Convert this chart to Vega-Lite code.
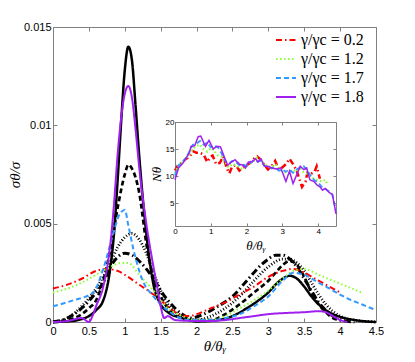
{
"$schema":"https://vega.github.io/schema/vega-lite/v6.json",
"width":323,"height":295,
"autosize":"none",
"padding":{"left":53,"top":27,"right":39,"bottom":40},
"background":"white",
"config":{"view":{"stroke":null},"axis":{"grid":false,"labelFlush":false,"labelOverlap":false,"domainColor":"#808080","tickColor":"#808080","labelColor":"#000000","labelFont":"Liberation Sans","titleColor":"#000000","titleFontWeight":"normal"}},
"datasets":{
"blk":[
{"s":"solid","x":0,"y":0},{"s":"solid","x":0.2,"y":0.00003},{"s":"solid","x":0.35,"y":0.0001},{"s":"solid","x":0.5,"y":0.0003},{"s":"solid","x":0.6,"y":0.0006},{"s":"solid","x":0.7,"y":0.0011},{"s":"solid","x":0.8,"y":0.0028},{"s":"solid","x":0.85,"y":0.0045},{"s":"solid","x":0.9,"y":0.0072},{"s":"solid","x":0.95,"y":0.0102},{"s":"solid","x":1.0,"y":0.0128},{"s":"solid","x":1.05,"y":0.014},{"s":"solid","x":1.1,"y":0.0133},{"s":"solid","x":1.15,"y":0.011},{"s":"solid","x":1.2,"y":0.0085},{"s":"solid","x":1.3,"y":0.0045},{"s":"solid","x":1.4,"y":0.0019},{"s":"solid","x":1.5,"y":0.0009},{"s":"solid","x":1.6,"y":0.0005},{"s":"solid","x":1.8,"y":0.0002},{"s":"solid","x":2.0,"y":0.00003},{"s":"solid","x":2.3,"y":0.0001},{"s":"solid","x":2.5,"y":0.0003},{"s":"solid","x":2.7,"y":0.0007},{"s":"solid","x":2.9,"y":0.0012},{"s":"solid","x":3.0,"y":0.0015},{"s":"solid","x":3.1,"y":0.0019},{"s":"solid","x":3.2,"y":0.0022},{"s":"solid","x":3.3,"y":0.00235},{"s":"solid","x":3.4,"y":0.0022},{"s":"solid","x":3.5,"y":0.0018},{"s":"solid","x":3.6,"y":0.0013},{"s":"solid","x":3.7,"y":0.0009},{"s":"solid","x":3.8,"y":0.0006},{"s":"solid","x":3.9,"y":0.0004},{"s":"solid","x":4.0,"y":0.00026},{"s":"solid","x":4.2,"y":0.0001},{"s":"solid","x":4.5,"y":0},
{"s":"dashed","x":0,"y":0},{"s":"dashed","x":0.2,"y":0.0001},{"s":"dashed","x":0.4,"y":0.0004},{"s":"dashed","x":0.5,"y":0.0007},{"s":"dashed","x":0.6,"y":0.0011},{"s":"dashed","x":0.7,"y":0.0021},{"s":"dashed","x":0.8,"y":0.0037},{"s":"dashed","x":0.9,"y":0.0058},{"s":"dashed","x":1.0,"y":0.0075},{"s":"dashed","x":1.05,"y":0.008},{"s":"dashed","x":1.1,"y":0.0078},{"s":"dashed","x":1.2,"y":0.0066},{"s":"dashed","x":1.3,"y":0.004},{"s":"dashed","x":1.4,"y":0.0022},{"s":"dashed","x":1.5,"y":0.0013},{"s":"dashed","x":1.6,"y":0.0007},{"s":"dashed","x":1.8,"y":0.0002},{"s":"dashed","x":2.0,"y":0.0001},{"s":"dashed","x":2.2,"y":0.0001},{"s":"dashed","x":2.4,"y":0.0004},{"s":"dashed","x":2.6,"y":0.0009},{"s":"dashed","x":2.8,"y":0.0015},{"s":"dashed","x":3.0,"y":0.0021},{"s":"dashed","x":3.1,"y":0.0025},{"s":"dashed","x":3.2,"y":0.0029},{"s":"dashed","x":3.3,"y":0.0031},{"s":"dashed","x":3.4,"y":0.0029},{"s":"dashed","x":3.5,"y":0.0023},{"s":"dashed","x":3.6,"y":0.0015},{"s":"dashed","x":3.7,"y":0.0009},{"s":"dashed","x":3.8,"y":0.0005},{"s":"dashed","x":3.9,"y":0.0002},{"s":"dashed","x":4.0,"y":0.0001},
{"s":"dotted","x":0,"y":0},{"s":"dotted","x":0.2,"y":0.0002},{"s":"dotted","x":0.4,"y":0.0008},{"s":"dotted","x":0.6,"y":0.0017},{"s":"dotted","x":0.8,"y":0.003},{"s":"dotted","x":0.9,"y":0.0038},{"s":"dotted","x":1.0,"y":0.0043},{"s":"dotted","x":1.1,"y":0.0045},{"s":"dotted","x":1.2,"y":0.0042},{"s":"dotted","x":1.3,"y":0.0035},{"s":"dotted","x":1.4,"y":0.0025},{"s":"dotted","x":1.5,"y":0.0016},{"s":"dotted","x":1.6,"y":0.0009},{"s":"dotted","x":1.8,"y":0.0003},{"s":"dotted","x":2.0,"y":0.0001},{"s":"dotted","x":2.2,"y":0.0003},{"s":"dotted","x":2.4,"y":0.0007},{"s":"dotted","x":2.6,"y":0.0013},{"s":"dotted","x":2.8,"y":0.0021},{"s":"dotted","x":3.0,"y":0.0028},{"s":"dotted","x":3.2,"y":0.0032},{"s":"dotted","x":3.3,"y":0.0032},{"s":"dotted","x":3.4,"y":0.003},{"s":"dotted","x":3.5,"y":0.0026},{"s":"dotted","x":3.6,"y":0.002},{"s":"dotted","x":3.7,"y":0.0014},{"s":"dotted","x":3.8,"y":0.0009},{"s":"dotted","x":4.0,"y":0.0003},{"s":"dotted","x":4.2,"y":0.0001},{"s":"dotted","x":4.5,"y":0},
{"s":"dashdot","x":0,"y":0},{"s":"dashdot","x":0.2,"y":0.0002},{"s":"dashdot","x":0.4,"y":0.0007},{"s":"dashdot","x":0.6,"y":0.0015},{"s":"dashdot","x":0.7,"y":0.002},{"s":"dashdot","x":0.8,"y":0.0028},{"s":"dashdot","x":0.9,"y":0.0033},{"s":"dashdot","x":1.0,"y":0.0035},{"s":"dashdot","x":1.1,"y":0.0034},{"s":"dashdot","x":1.2,"y":0.0031},{"s":"dashdot","x":1.3,"y":0.0027},{"s":"dashdot","x":1.4,"y":0.0022},{"s":"dashdot","x":1.5,"y":0.0016},{"s":"dashdot","x":1.6,"y":0.0011},{"s":"dashdot","x":1.7,"y":0.0007},{"s":"dashdot","x":1.8,"y":0.0004},{"s":"dashdot","x":1.9,"y":0.0002},{"s":"dashdot","x":2.1,"y":0.0004},{"s":"dashdot","x":2.3,"y":0.0008},{"s":"dashdot","x":2.5,"y":0.0013},{"s":"dashdot","x":2.7,"y":0.0021},{"s":"dashdot","x":2.9,"y":0.0029},{"s":"dashdot","x":3.0,"y":0.0032},{"s":"dashdot","x":3.1,"y":0.0034},{"s":"dashdot","x":3.2,"y":0.0034},{"s":"dashdot","x":3.3,"y":0.0032},{"s":"dashdot","x":3.4,"y":0.0028},{"s":"dashdot","x":3.5,"y":0.0022},{"s":"dashdot","x":3.6,"y":0.0016},{"s":"dashdot","x":3.7,"y":0.001},{"s":"dashdot","x":3.8,"y":0.0006},{"s":"dashdot","x":3.9,"y":0.0003},{"s":"dashdot","x":4.0,"y":0.0001},{"s":"dashdot","x":4.2,"y":0}
],
"col":[
{"g":"0.2","x":0,"y":0.0017},{"g":"0.2","x":0.2,"y":0.0019},{"g":"0.2","x":0.4,"y":0.0022},{"g":"0.2","x":0.6,"y":0.0026},{"g":"0.2","x":0.75,"y":0.0027},{"g":"0.2","x":0.9,"y":0.0026},{"g":"0.2","x":1.0,"y":0.0024},{"g":"0.2","x":1.2,"y":0.0019},{"g":"0.2","x":1.4,"y":0.0014},{"g":"0.2","x":1.6,"y":0.0008},{"g":"0.2","x":1.75,"y":0.0004},{"g":"0.2","x":1.9,"y":0.0003},{"g":"0.2","x":2.0,"y":0.0004},{"g":"0.2","x":2.2,"y":0.0007},{"g":"0.2","x":2.4,"y":0.001},{"g":"0.2","x":2.6,"y":0.0014},{"g":"0.2","x":2.8,"y":0.0018},{"g":"0.2","x":3.0,"y":0.0023},{"g":"0.2","x":3.2,"y":0.0026},{"g":"0.2","x":3.35,"y":0.0027},{"g":"0.2","x":3.5,"y":0.0025},{"g":"0.2","x":3.7,"y":0.0021},{"g":"0.2","x":3.9,"y":0.0017},{"g":"0.2","x":4.0,"y":0.0015},
{"g":"1.2","x":0,"y":0.0015},{"g":"1.2","x":0.2,"y":0.0017},{"g":"1.2","x":0.4,"y":0.002},{"g":"1.2","x":0.6,"y":0.0024},{"g":"1.2","x":0.8,"y":0.0028},{"g":"1.2","x":0.95,"y":0.003},{"g":"1.2","x":1.05,"y":0.003},{"g":"1.2","x":1.2,"y":0.0024},{"g":"1.2","x":1.4,"y":0.0016},{"g":"1.2","x":1.6,"y":0.0007},{"g":"1.2","x":1.8,"y":0.0003},{"g":"1.2","x":2.0,"y":0.0001},{"g":"1.2","x":2.2,"y":0.0001},{"g":"1.2","x":2.4,"y":0.0003},{"g":"1.2","x":2.6,"y":0.0007},{"g":"1.2","x":2.8,"y":0.0011},{"g":"1.2","x":3.0,"y":0.0016},{"g":"1.2","x":3.2,"y":0.0022},{"g":"1.2","x":3.35,"y":0.0026},{"g":"1.2","x":3.5,"y":0.0027},{"g":"1.2","x":3.7,"y":0.0024},{"g":"1.2","x":3.9,"y":0.0021},{"g":"1.2","x":4.1,"y":0.0018},{"g":"1.2","x":4.3,"y":0.0015},
{"g":"1.7","x":0,"y":0.0008},{"g":"1.7","x":0.28,"y":0.0011},{"g":"1.7","x":0.56,"y":0.0015},{"g":"1.7","x":0.7,"y":0.0027},{"g":"1.7","x":0.84,"y":0.0045},{"g":"1.7","x":0.93,"y":0.0055},{"g":"1.7","x":1.0,"y":0.0057},{"g":"1.7","x":1.05,"y":0.0049},{"g":"1.7","x":1.12,"y":0.0037},{"g":"1.7","x":1.25,"y":0.0021},{"g":"1.7","x":1.4,"y":0.0013},{"g":"1.7","x":1.63,"y":0.0005},{"g":"1.7","x":1.9,"y":0.0001},{"g":"1.7","x":2.2,"y":0.0001},{"g":"1.7","x":2.4,"y":0.0002},{"g":"1.7","x":2.6,"y":0.0004},{"g":"1.7","x":2.8,"y":0.0008},{"g":"1.7","x":3.0,"y":0.0013},{"g":"1.7","x":3.2,"y":0.0021},{"g":"1.7","x":3.35,"y":0.0025},{"g":"1.7","x":3.5,"y":0.0024},{"g":"1.7","x":3.7,"y":0.002},{"g":"1.7","x":3.9,"y":0.0016},{"g":"1.7","x":4.1,"y":0.0012},{"g":"1.7","x":4.3,"y":0.0009},{"g":"1.7","x":4.5,"y":0.0006},
{"g":"1.8","x":0,"y":0},{"g":"1.8","x":0.2,"y":0.00005},{"g":"1.8","x":0.4,"y":0.0002},{"g":"1.8","x":0.5,"y":0.0},{"g":"1.8","x":0.55,"y":0.0003},{"g":"1.8","x":0.6,"y":0.0008},{"g":"1.8","x":0.7,"y":0.0018},{"g":"1.8","x":0.8,"y":0.004},{"g":"1.8","x":0.85,"y":0.006},{"g":"1.8","x":0.9,"y":0.0085},{"g":"1.8","x":0.95,"y":0.0104},{"g":"1.8","x":1.0,"y":0.0116},{"g":"1.8","x":1.05,"y":0.012},{"g":"1.8","x":1.1,"y":0.0114},{"g":"1.8","x":1.15,"y":0.0098},{"g":"1.8","x":1.2,"y":0.0079},{"g":"1.8","x":1.3,"y":0.005},{"g":"1.8","x":1.4,"y":0.0028},{"g":"1.8","x":1.45,"y":0.0018},{"g":"1.8","x":1.5,"y":0.0008},{"g":"1.8","x":1.55,"y":0.0002},{"g":"1.8","x":1.6,"y":0.0003},{"g":"1.8","x":1.7,"y":0.0001},{"g":"1.8","x":2.0,"y":0.00005},{"g":"1.8","x":2.2,"y":0.00005},{"g":"1.8","x":2.4,"y":0.0001},{"g":"1.8","x":2.6,"y":0.0002},{"g":"1.8","x":2.8,"y":0.0003},{"g":"1.8","x":3.0,"y":0.0004},{"g":"1.8","x":3.2,"y":0.00045},{"g":"1.8","x":3.5,"y":0.0005},{"g":"1.8","x":3.7,"y":0.00055},{"g":"1.8","x":3.8,"y":0.0005},{"g":"1.8","x":3.9,"y":0.0003},{"g":"1.8","x":4.0,"y":0.0001},{"g":"1.8","x":4.1,"y":0}
],
"ins":[
{"g":"0.2","x":0,"n":11.0},{"g":"0.2","x":0.1,"n":12.2},{"g":"0.2","x":0.2,"n":12.4},{"g":"0.2","x":0.3,"n":13.2},{"g":"0.2","x":0.4,"n":13.5},{"g":"0.2","x":0.5,"n":14.6},{"g":"0.2","x":0.6,"n":14.3},{"g":"0.2","x":0.7,"n":14.3},{"g":"0.2","x":0.8,"n":14.0},{"g":"0.2","x":0.9,"n":12.6},{"g":"0.2","x":1.0,"n":13.6},{"g":"0.2","x":1.05,"n":13.8},{"g":"0.2","x":1.15,"n":12.2},{"g":"0.2","x":1.25,"n":12.4},{"g":"0.2","x":1.35,"n":13.6},{"g":"0.2","x":1.45,"n":11.4},{"g":"0.2","x":1.52,"n":10.5},{"g":"0.2","x":1.6,"n":11.8},{"g":"0.2","x":1.7,"n":12.0},{"g":"0.2","x":1.8,"n":11.0},{"g":"0.2","x":1.9,"n":11.6},{"g":"0.2","x":2.0,"n":12.0},{"g":"0.2","x":2.1,"n":12.4},{"g":"0.2","x":2.2,"n":13.2},{"g":"0.2","x":2.3,"n":13.6},{"g":"0.2","x":2.4,"n":13.0},{"g":"0.2","x":2.5,"n":12.0},{"g":"0.2","x":2.6,"n":11.2},{"g":"0.2","x":2.7,"n":11.8},{"g":"0.2","x":2.8,"n":12.8},{"g":"0.2","x":2.9,"n":11.2},{"g":"0.2","x":3.0,"n":11.6},{"g":"0.2","x":3.1,"n":12.2},{"g":"0.2","x":3.2,"n":13.2},{"g":"0.2","x":3.3,"n":12.2},{"g":"0.2","x":3.4,"n":11.0},{"g":"0.2","x":3.45,"n":10.0},{"g":"0.2","x":3.55,"n":8.0},{"g":"0.2","x":3.65,"n":9.0},{"g":"0.2","x":3.7,"n":10.6},{"g":"0.2","x":3.8,"n":10.4},{"g":"0.2","x":3.9,"n":10.8},{"g":"0.2","x":3.96,"n":11.8},{"g":"0.2","x":4.05,"n":9.5},
{"g":"1.2","x":0,"n":10.5},{"g":"1.2","x":0.1,"n":12.0},{"g":"1.2","x":0.2,"n":12.6},{"g":"1.2","x":0.3,"n":13.2},{"g":"1.2","x":0.4,"n":14.0},{"g":"1.2","x":0.5,"n":15.0},{"g":"1.2","x":0.6,"n":15.6},{"g":"1.2","x":0.7,"n":15.8},{"g":"1.2","x":0.8,"n":15.0},{"g":"1.2","x":0.9,"n":14.5},{"g":"1.2","x":1.0,"n":15.2},{"g":"1.2","x":1.1,"n":14.6},{"g":"1.2","x":1.2,"n":13.8},{"g":"1.2","x":1.3,"n":13.6},{"g":"1.2","x":1.4,"n":12.6},{"g":"1.2","x":1.5,"n":11.6},{"g":"1.2","x":1.6,"n":12.2},{"g":"1.2","x":1.7,"n":12.0},{"g":"1.2","x":1.8,"n":11.6},{"g":"1.2","x":1.9,"n":11.2},{"g":"1.2","x":2.0,"n":11.8},{"g":"1.2","x":2.1,"n":12.4},{"g":"1.2","x":2.2,"n":12.8},{"g":"1.2","x":2.3,"n":13.4},{"g":"1.2","x":2.4,"n":13.0},{"g":"1.2","x":2.5,"n":12.2},{"g":"1.2","x":2.6,"n":11.8},{"g":"1.2","x":2.7,"n":11.6},{"g":"1.2","x":2.8,"n":12.2},{"g":"1.2","x":2.9,"n":11.4},{"g":"1.2","x":3.0,"n":11.0},{"g":"1.2","x":3.1,"n":10.6},{"g":"1.2","x":3.2,"n":10.4},{"g":"1.2","x":3.3,"n":11.2},{"g":"1.2","x":3.4,"n":10.8},{"g":"1.2","x":3.5,"n":11.4},{"g":"1.2","x":3.6,"n":10.6},{"g":"1.2","x":3.7,"n":10.4},{"g":"1.2","x":3.8,"n":9.8},{"g":"1.2","x":3.9,"n":9.4},{"g":"1.2","x":4.0,"n":9.2},{"g":"1.2","x":4.1,"n":9.0},{"g":"1.2","x":4.2,"n":9.3},{"g":"1.2","x":4.25,"n":8.6},
{"g":"1.7","x":0,"n":10.2},{"g":"1.7","x":0.1,"n":12.0},{"g":"1.7","x":0.2,"n":12.5},{"g":"1.7","x":0.3,"n":13.3},{"g":"1.7","x":0.4,"n":14.5},{"g":"1.7","x":0.5,"n":15.8},{"g":"1.7","x":0.6,"n":16.0},{"g":"1.7","x":0.7,"n":16.5},{"g":"1.7","x":0.8,"n":15.8},{"g":"1.7","x":0.9,"n":16.2},{"g":"1.7","x":1.0,"n":15.3},{"g":"1.7","x":1.1,"n":15.6},{"g":"1.7","x":1.2,"n":15.3},{"g":"1.7","x":1.3,"n":14.2},{"g":"1.7","x":1.4,"n":12.8},{"g":"1.7","x":1.5,"n":12.3},{"g":"1.7","x":1.6,"n":12.8},{"g":"1.7","x":1.7,"n":12.6},{"g":"1.7","x":1.8,"n":12.0},{"g":"1.7","x":1.9,"n":12.2},{"g":"1.7","x":2.0,"n":11.8},{"g":"1.7","x":2.1,"n":12.4},{"g":"1.7","x":2.2,"n":12.9},{"g":"1.7","x":2.3,"n":12.7},{"g":"1.7","x":2.4,"n":12.8},{"g":"1.7","x":2.5,"n":11.9},{"g":"1.7","x":2.6,"n":11.7},{"g":"1.7","x":2.7,"n":11.4},{"g":"1.7","x":2.8,"n":11.6},{"g":"1.7","x":2.9,"n":11.0},{"g":"1.7","x":3.0,"n":11.2},{"g":"1.7","x":3.1,"n":10.8},{"g":"1.7","x":3.2,"n":11.2},{"g":"1.7","x":3.3,"n":10.6},{"g":"1.7","x":3.4,"n":11.2},{"g":"1.7","x":3.5,"n":11.6},{"g":"1.7","x":3.6,"n":11.8},{"g":"1.7","x":3.7,"n":11.0},{"g":"1.7","x":3.8,"n":10.0},{"g":"1.7","x":3.9,"n":9.2},{"g":"1.7","x":4.0,"n":8.8},{"g":"1.7","x":4.1,"n":8.0},{"g":"1.7","x":4.2,"n":7.6},{"g":"1.7","x":4.3,"n":7.2},{"g":"1.7","x":4.4,"n":6.5},{"g":"1.7","x":4.5,"n":3.5},
{"g":"1.8","x":0,"n":9.3},{"g":"1.8","x":0.1,"n":11.5},{"g":"1.8","x":0.2,"n":12.2},{"g":"1.8","x":0.3,"n":13.2},{"g":"1.8","x":0.4,"n":14.3},{"g":"1.8","x":0.45,"n":15.5},{"g":"1.8","x":0.55,"n":15.6},{"g":"1.8","x":0.65,"n":17.3},{"g":"1.8","x":0.72,"n":17.4},{"g":"1.8","x":0.85,"n":15.5},{"g":"1.8","x":0.95,"n":16.6},{"g":"1.8","x":1.07,"n":15.0},{"g":"1.8","x":1.17,"n":15.5},{"g":"1.8","x":1.27,"n":15.4},{"g":"1.8","x":1.38,"n":13.5},{"g":"1.8","x":1.47,"n":12.0},{"g":"1.8","x":1.58,"n":12.6},{"g":"1.8","x":1.68,"n":13.0},{"g":"1.8","x":1.8,"n":12.2},{"g":"1.8","x":1.9,"n":12.0},{"g":"1.8","x":1.97,"n":11.5},{"g":"1.8","x":2.05,"n":12.6},{"g":"1.8","x":2.15,"n":12.6},{"g":"1.8","x":2.25,"n":13.2},{"g":"1.8","x":2.32,"n":12.6},{"g":"1.8","x":2.4,"n":13.2},{"g":"1.8","x":2.5,"n":11.8},{"g":"1.8","x":2.6,"n":11.8},{"g":"1.8","x":2.75,"n":11.4},{"g":"1.8","x":2.85,"n":11.3},{"g":"1.8","x":2.95,"n":11.5},{"g":"1.8","x":3.02,"n":10.4},{"g":"1.8","x":3.1,"n":9.0},{"g":"1.8","x":3.2,"n":10.9},{"g":"1.8","x":3.3,"n":8.6},{"g":"1.8","x":3.4,"n":10.2},{"g":"1.8","x":3.5,"n":11.8},{"g":"1.8","x":3.6,"n":11.2},{"g":"1.8","x":3.68,"n":11.5},{"g":"1.8","x":3.77,"n":9.3},{"g":"1.8","x":3.88,"n":9.0},{"g":"1.8","x":3.96,"n":8.4},{"g":"1.8","x":4.05,"n":8.0},{"g":"1.8","x":4.12,"n":7.4},{"g":"1.8","x":4.2,"n":7.7},{"g":"1.8","x":4.3,"n":7.0},{"g":"1.8","x":4.4,"n":6.6},{"g":"1.8","x":4.5,"n":3.0}
]
},
"layer":[
{"layer":[
 {"data":{"name":"blk"},"mark":{"type":"line","interpolate":"monotone"},
  "encoding":{
   "x":{"field":"x","type":"quantitative","scale":{"domain":[0,4.5],"nice":false,"zero":false},"axis":{"orient":"top","values":[0,0.5,1,1.5,2,2.5,3,3.5,4,4.5],"labels":false,"tickSize":-4,"title":null}},
   "y":{"field":"y","type":"quantitative","scale":{"domain":[0,0.015],"nice":false},"axis":{"orient":"right","values":[0,0.005,0.01,0.015],"labels":false,"tickSize":-4,"title":null}},
   "color":{"value":"#000000"},
   "strokeDash":{"field":"s","type":"nominal","scale":{"domain":["solid","dashed","dotted","dashdot"],"range":[[1,0],[5,3],[1,2],[7,3,1.5,3]]},"legend":null},
   "strokeWidth":{"field":"s","type":"nominal","scale":{"domain":["solid","dashed","dotted","dashdot"],"range":[2.5,3,1.2,2.2]},"legend":null}
  }},
 {"data":{"name":"col"},"mark":{"type":"line","interpolate":"monotone"},
  "encoding":{
   "x":{"field":"x","type":"quantitative","scale":{"domain":[0,4.5],"nice":false,"zero":false},"axis":{"orient":"bottom","values":[0,0.5,1,1.5,2,2.5,3,3.5,4,4.5],"labelExpr":"''+datum.value","tickSize":-4,"labelPadding":7,"labelFontSize":11,"title":"θ/θᵧ","titleFont":"Liberation Serif","titleFontStyle":"italic","titleFontSize":15,"titlePadding":2}},
   "y":{"field":"y","type":"quantitative","scale":{"domain":[0,0.015],"nice":false},"axis":{"orient":"left","values":[0,0.005,0.01,0.015],"labelExpr":"''+datum.value","tickSize":-4,"labelPadding":6,"labelFontSize":11,"title":"σθ/σ","titleFont":"Liberation Serif","titleFontStyle":"italic","titleFontSize":15,"titlePadding":1}},
   "color":{"field":"g","type":"nominal","scale":{"domain":["0.2","1.2","1.7","1.8"],"range":["#ff0000","#88ff33","#3399ff","#a020f0"]},
     "legend":{"orient":"none","legendX":222,"legendY":2,"title":null,"labelExpr":"'γ/γc = ' + datum.label","labelFont":"Liberation Serif","labelFontSize":16,"symbolType":"stroke","symbolSize":400,"symbolStrokeWidth":2,"rowPadding":0,"padding":0,"labelOffset":4}},
   "strokeDash":{"field":"g","type":"nominal","scale":{"domain":["0.2","1.2","1.7","1.8"],"range":[[6,3,1.5,3],[1.5,2.5],[5,3],[1,0]]},
     "legend":{"orient":"none","legendX":222,"legendY":2,"title":null,"labelExpr":"'γ/γc = ' + datum.label","labelFont":"Liberation Serif","labelFontSize":16,"symbolType":"stroke","symbolSize":400,"symbolStrokeWidth":2,"rowPadding":0,"padding":0,"labelOffset":4}},
   "strokeWidth":{"field":"g","type":"nominal","scale":{"domain":["0.2","1.2","1.7","1.8"],"range":[2,2,2.2,2.5]},"legend":null}
  }}
 ],
 "resolve":{"scale":{"color":"independent","strokeDash":"independent","strokeWidth":"independent"},"legend":{"color":"independent","strokeDash":"independent"},"axis":{"x":"independent","y":"independent"}}
},
{"layer":[
 {"data":{"name":"ins"},"mark":{"type":"line"},
  "encoding":{
   "x":{"field":"x","type":"quantitative","scale":{"domain":[0,4.5],"range":[122,283],"nice":false,"zero":false},"axis":{"orient":"bottom","offset":-96,"values":[0,1,2,3,4],"tickSize":-3,"labelPadding":4,"labelFontSize":8,"title":"θ/θᵧ","titleFont":"Liberation Serif","titleFontStyle":"italic","titleFontSize":13,"titlePadding":4}},
   "y":{"field":"n","type":"quantitative","scale":{"domain":[0.75,20],"range":[199,95],"nice":false,"zero":false},"axis":{"orient":"left","offset":-122,"values":[5,10,15,20],"tickSize":-3,"labelPadding":4,"labelFontSize":8,"title":"Nθ","titleFont":"Liberation Serif","titleFontStyle":"italic","titleFontSize":13,"titlePadding":2}},
   "color":{"field":"g","type":"nominal","scale":{"domain":["0.2","1.2","1.7","1.8"],"range":["#ff0000","#88ff33","#3399ff","#a020f0"]},"legend":null},
   "strokeDash":{"field":"g","type":"nominal","scale":{"domain":["0.2","1.2","1.7","1.8"],"range":[[6,3,1.5,3],[1.5,2.5],[5,3],[1,0]]},"legend":null},
   "strokeWidth":{"field":"g","type":"nominal","scale":{"domain":["0.2","1.2","1.7","1.8"],"range":[2.5,1.5,2.5,3]},"legend":null}
  }},
 {"data":{"name":"ins"},"mark":{"type":"line","strokeOpacity":0},
  "encoding":{
   "x":{"field":"x","type":"quantitative","scale":{"domain":[0,4.5],"range":[122,283],"nice":false,"zero":false},"axis":{"orient":"top","offset":-95,"values":[0,1,2,3,4],"tickSize":-3,"labels":false,"title":null}},
   "y":{"field":"n","type":"quantitative","scale":{"domain":[0.75,20],"range":[199,95],"nice":false,"zero":false},"axis":{"orient":"right","offset":-40,"values":[5,10,15,20],"tickSize":-3,"labels":false,"title":null}},
   "detail":{"field":"g"}
  }}
 ],
 "resolve":{"axis":{"x":"independent","y":"independent"}}
}
],
"resolve":{"scale":{"x":"independent","y":"independent","color":"independent","strokeDash":"independent","strokeWidth":"independent"}}
}
